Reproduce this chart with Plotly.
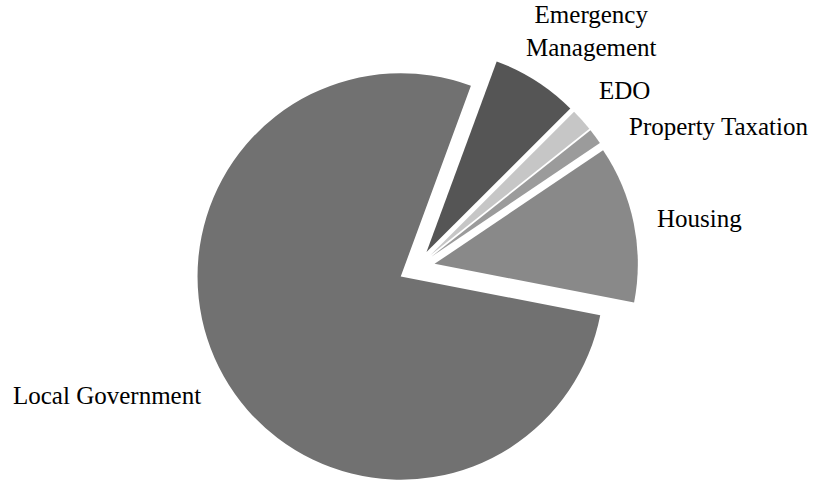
import math
import plotly.graph_objects as go

# Data
categories = ["Emergency Management", "EDO", "Property Taxation", "Housing", "Local Government"]
shares = [6.9, 1.8, 1.25, 12.5, 77.6]
label_text = ["Emergency<br>Management", "EDO", "Property Taxation", "Housing", "Local Government"]

# Styles
slice_colors = ["#555555", "#c6c6c6", "#9b9b9b", "#898989", "#717171"]
explode = [0.09] * len(categories)
rotation = 20.2
# label placement (polar, relative to each slice's mid-angle, in units of the radius)
label_dist = [1.45, 1.245, 1.245, 1.197, 1.225]
label_nudge = [3.9, -2.8, 2.5, 0.0, -1.6]
label_anchor = ["center", "left", "left", "left", "right"]
font_family = "Liberation Serif, Times New Roman, serif"

W, H = 817, 489
margin = dict(l=0, r=0, t=46, b=0)
dom_x = [0.02, 1.0]
dom_y = [0.0, 1.0]

fig = go.Figure(
    go.Pie(
        labels=categories,
        values=shares,
        textinfo="none",
        sort=False,
        direction="clockwise",
        rotation=rotation,
        pull=explode,
        marker=dict(colors=slice_colors, line=dict(width=0)),
        automargin=False,
        showlegend=False,
        hoverinfo="label+value",
        domain=dict(x=dom_x, y=dom_y),
    )
)

# Pie geometry as Plotly lays it out, used to place the labels
pw = W - margin["l"] - margin["r"]
ph = H - margin["t"] - margin["b"]
box_w = pw * (dom_x[1] - dom_x[0])
box_h = ph * (dom_y[1] - dom_y[0])
cx = margin["l"] + pw * (dom_x[0] + dom_x[1]) / 2
cy = margin["t"] + ph * (1 - dom_y[0]) - box_h / 2
R = min(box_w, box_h) / 2 / (1 + max(explode))

total = sum(shares)
cum = 0.0
for i, v in enumerate(shares):
    mid = rotation + 360.0 * (cum + v / 2) / total
    cum += v
    ang = math.radians(mid + label_nudge[i])
    d = label_dist[i] * R
    px = cx + d * math.sin(ang)
    py = cy - d * math.cos(ang)
    fig.add_annotation(
        x=(px - margin["l"]) / pw,
        y=1 - (py - margin["t"]) / ph,
        xref="paper",
        yref="paper",
        text=label_text[i],
        showarrow=False,
        xanchor=label_anchor[i],
        yanchor="middle",
        align="center",
        font=dict(family=font_family, size=25, color="black"),
    )

fig.update_layout(
    width=W,
    height=H,
    margin=margin,
    paper_bgcolor="white",
    plot_bgcolor="white",
    showlegend=False,
)

fig.write_html("out.html")
